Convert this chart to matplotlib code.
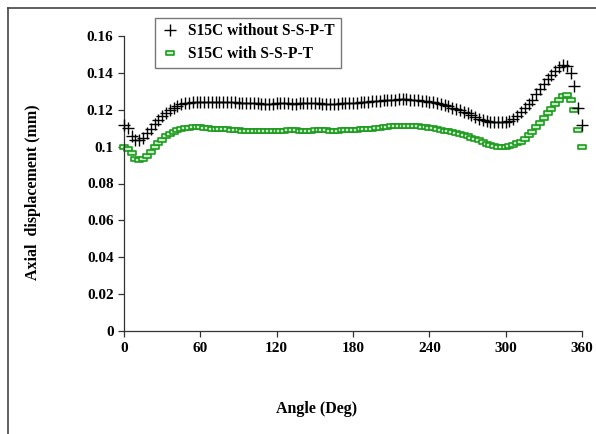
import matplotlib
matplotlib.use("Agg")
import matplotlib.pyplot as plt
from matplotlib.lines import Line2D
from matplotlib.path import Path
import numpy as np

# Angle in degrees, 3 deg step over one revolution
angle = np.arange(0, 361, 3)

# Axial displacement (mm), without S-S-P-T
disp_without = [
    0.1117, 0.1102, 0.1060, 0.1038, 0.1036, 0.1045, 0.1072, 0.1098, 0.1123, 0.1145,
    0.1165, 0.1182, 0.1196, 0.1210, 0.1221, 0.1229, 0.1234, 0.1237, 0.1240, 0.1242,
    0.1243, 0.1244, 0.1244, 0.1244, 0.1244, 0.1243, 0.1243, 0.1242, 0.1241, 0.1240,
    0.1239, 0.1238, 0.1237, 0.1236, 0.1235, 0.1234, 0.1233, 0.1232, 0.1232, 0.1233,
    0.1234, 0.1235, 0.1235, 0.1234, 0.1233, 0.1233, 0.1234, 0.1234, 0.1234, 0.1234,
    0.1235, 0.1234, 0.1233, 0.1233, 0.1232, 0.1232, 0.1233, 0.1234, 0.1235, 0.1236,
    0.1237, 0.1238, 0.1240, 0.1242, 0.1244, 0.1246, 0.1248, 0.1250, 0.1252, 0.1253,
    0.1254, 0.1255, 0.1256, 0.1256, 0.1256, 0.1255, 0.1254, 0.1252, 0.1250, 0.1247,
    0.1244, 0.1240, 0.1235, 0.1230, 0.1224, 0.1218, 0.1211, 0.1204, 0.1196, 0.1188,
    0.1180, 0.1170, 0.1161, 0.1152, 0.1145, 0.1140, 0.1135, 0.1132, 0.1131, 0.1131,
    0.1134, 0.1140, 0.1150, 0.1165, 0.1186, 0.1208, 0.1230, 0.1255, 0.1283, 0.1312,
    0.1340, 0.1367, 0.1390, 0.1412, 0.1430, 0.1441, 0.1438, 0.1400, 0.1330, 0.1210,
    0.1115,
]

# Axial displacement (mm), with S-S-P-T
disp_with = [
    0.1000, 0.0985, 0.0965, 0.0935, 0.0928, 0.0932, 0.0948, 0.0972, 0.1000, 0.1018,
    0.1038, 0.1057, 0.1070, 0.1080, 0.1088, 0.1094, 0.1099, 0.1102, 0.1104, 0.1105,
    0.1104, 0.1102, 0.1100, 0.1098, 0.1097, 0.1096, 0.1095, 0.1094, 0.1092, 0.1090,
    0.1088, 0.1087, 0.1086, 0.1086, 0.1086, 0.1085, 0.1085, 0.1085, 0.1086, 0.1087,
    0.1087, 0.1087, 0.1087, 0.1088, 0.1088, 0.1088, 0.1087, 0.1087, 0.1087, 0.1087,
    0.1088, 0.1088, 0.1088, 0.1088, 0.1087, 0.1087, 0.1087, 0.1088, 0.1089, 0.1090,
    0.1091, 0.1092, 0.1093, 0.1094, 0.1096, 0.1098, 0.1100, 0.1103, 0.1106, 0.1108,
    0.1110, 0.1112, 0.1113, 0.1114, 0.1114, 0.1113, 0.1112, 0.1110, 0.1108, 0.1105,
    0.1102, 0.1099, 0.1095, 0.1091, 0.1087, 0.1083, 0.1078, 0.1073, 0.1067, 0.1061,
    0.1055, 0.1049, 0.1043, 0.1037, 0.1025, 0.1015, 0.1008, 0.1002, 0.0998, 0.0997,
    0.0999, 0.1004, 0.1010, 0.1017, 0.1027, 0.1042, 0.1062, 0.1082, 0.1105, 0.1130,
    0.1153, 0.1180, 0.1205, 0.1232, 0.1255, 0.1272, 0.1282, 0.1255, 0.1198, 0.1090,
    0.1000,
]

x_ticks = [0, 60, 120, 180, 240, 300, 360]
y_ticks = [0, 0.02, 0.04, 0.06, 0.08, 0.1, 0.12, 0.14, 0.16]
y_tick_labels = ["0", "0.02", "0.04", "0.06", "0.08", "0.1", "0.12", "0.14", "0.16"]

GREEN = "#1f9a1f"
GREEN_FILL = "#c9efc9"

plt.rcParams["font.family"] = ["Liberation Serif", "DejaVu Serif"]
plt.rcParams["font.weight"] = "bold"

# flat hollow rectangle marker
rect_marker = Path([(-1, -0.45), (1, -0.45), (1, 0.45), (-1, 0.45), (-1, -0.45)],
                   [Path.MOVETO, Path.LINETO, Path.LINETO, Path.LINETO, Path.CLOSEPOLY])

fig = plt.figure(figsize=(5.96, 4.34), dpi=100)
ax = fig.add_axes([124 / 596, 1 - 331 / 434, 458 / 596, 295 / 434])

ax.plot(angle, disp_without, ls="none", marker="+", ms=8.5, mew=1.0,
        color="black", label="S15C without S-S-P-T", clip_on=False, zorder=3)
ax.plot(angle, disp_with, ls="none", marker=rect_marker, ms=5.5, mew=1.2,
        mec=GREEN, mfc=GREEN_FILL, label="S15C with S-S-P-T", clip_on=False, zorder=2)

ax.set_xlim(0, 360)
ax.set_ylim(0, 0.16)
ax.set_xticks(x_ticks)
ax.set_yticks(y_ticks)
ax.set_yticklabels(y_tick_labels)
ax.tick_params(direction="out", length=4, width=0.9, labelsize=11, color="#333333")
ax.tick_params(axis="x", pad=4)
for side in ("top", "right"):
    ax.spines[side].set_visible(False)
for side in ("left", "bottom"):
    ax.spines[side].set_color("#333333")
    ax.spines[side].set_linewidth(0.9)

fig.text(317 / 596, 1 - 409 / 434, "Angle (Deg)", ha="center", va="center",
         fontsize=11.5, fontweight="bold")
fig.text(33 / 596, 1 - 192 / 434, "Axial  displacement (mm)", ha="center", va="center",
         rotation=90, fontsize=11.5, fontweight="bold")

leg = ax.legend(loc="upper left", bbox_to_anchor=(155 / 596, 1 - 18 / 434),
                bbox_transform=fig.transFigure, fontsize=11.2, numpoints=1,
                fancybox=False, framealpha=1, edgecolor="#777777",
                borderpad=0.35, labelspacing=0.45, handlelength=1.2,
                handletextpad=0.6, borderaxespad=0)
leg.get_frame().set_linewidth(1.0)

# outer frame (top and left edges)
fig.add_artist(Line2D([8 / 596, 1], [1 - 8 / 434, 1 - 8 / 434],
                      transform=fig.transFigure, color="#444444", lw=1.2))
fig.add_artist(Line2D([8 / 596, 8 / 596], [0, 1 - 8 / 434],
                      transform=fig.transFigure, color="#444444", lw=1.2))

fig.savefig("out.png", dpi=100, facecolor="white")
